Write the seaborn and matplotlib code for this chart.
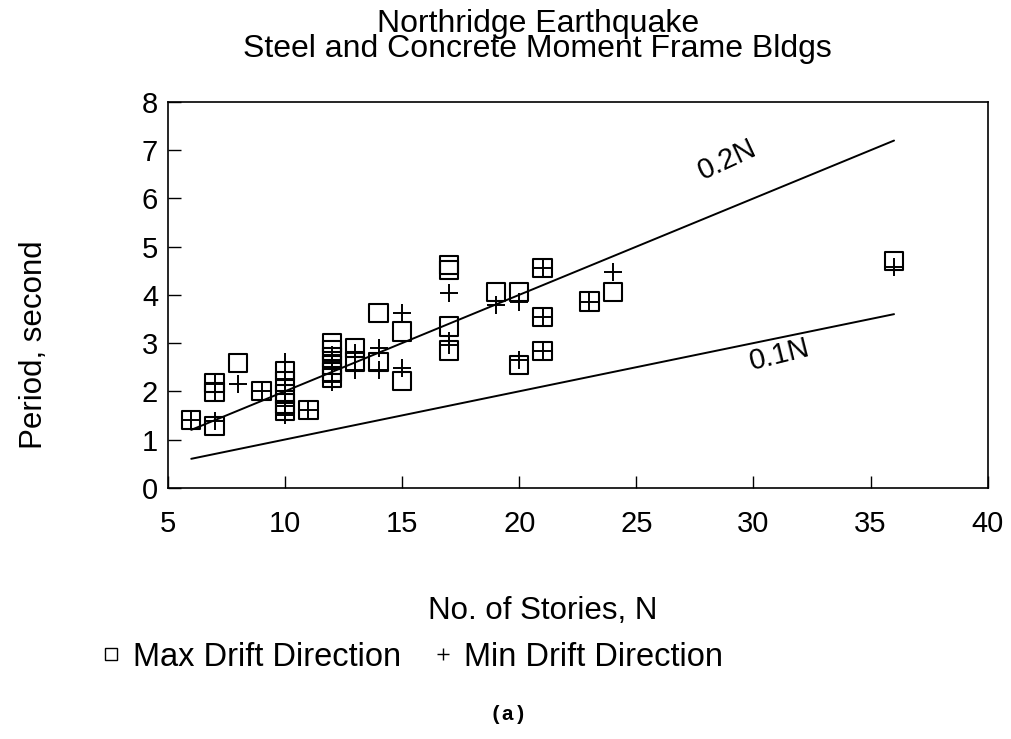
import matplotlib
matplotlib.use("Agg")
import matplotlib.pyplot as plt
from matplotlib.lines import Line2D
import numpy as np
import pandas as pd
import seaborn as sns

# Fundamental period vs. number of stories, per instrumented building
max_stories = [6, 7, 7, 7, 8, 9, 10, 10, 10, 10, 10, 11,
               12, 12, 12, 12, 12, 12, 13, 13, 14, 14, 15, 15,
               17, 17, 17, 17, 19, 20, 20, 21, 21, 21, 23, 24, 36]
max_period = [1.40, 2.17, 1.98, 1.28, 2.59, 2.00, 2.42, 2.20, 1.95, 1.75, 1.60, 1.61,
              3.00, 2.85, 2.70, 2.55, 2.40, 2.28, 2.90, 2.62, 3.62, 2.61, 3.24, 2.22,
              4.62, 4.52, 3.34, 2.85, 4.06, 4.06, 2.54, 4.56, 3.54, 2.84, 3.86, 4.06, 4.70]

min_stories = [6, 7, 7, 7, 8, 9, 10, 10, 10, 10, 10, 11,
               12, 12, 12, 12, 12, 13, 13, 14, 14, 15, 15,
               17, 17, 17, 19, 20, 20, 21, 21, 21, 23, 24, 36]
min_period = [1.40, 2.15, 1.98, 1.38, 2.16, 2.00, 2.60, 2.25, 2.00, 1.70, 1.50, 1.61,
              2.75, 2.60, 2.50, 2.35, 2.20, 2.80, 2.45, 2.90, 2.45, 3.62, 2.48,
              4.04, 3.05, 2.95, 3.78, 3.86, 2.65, 4.56, 3.54, 2.84, 3.86, 4.47, 4.58]

# Code-formula reference lines T = 0.2N and T = 0.1N
line_n = [6, 36]
coef_hi = 0.2
coef_lo = 0.1

x_ticks = [5, 10, 15, 20, 25, 30, 35, 40]
y_ticks = [0, 1, 2, 3, 4, 5, 6, 7, 8]

sns.set_theme(style="white")
plt.rcParams["font.family"] = ["Liberation Sans", "DejaVu Sans"]
plt.rcParams.update({
    "text.color": "black",
    "axes.labelcolor": "black",
    "xtick.color": "black",
    "ytick.color": "black",
})

fig = plt.figure(figsize=(10.11, 7.39), dpi=100)
ax = fig.add_axes([0.166, 0.340, 0.811, 0.522])

df_max = pd.DataFrame({"N": max_stories, "T": max_period})
df_min = pd.DataFrame({"N": min_stories, "T": min_period})
lines = pd.DataFrame({
    "N": line_n * 2,
    "T": [coef_hi * n for n in line_n] + [coef_lo * n for n in line_n],
    "rule": ["0.2N"] * 2 + ["0.1N"] * 2,
})

sns.lineplot(data=lines, x="N", y="T", units="rule", estimator=None,
             color="black", linewidth=1.4, ax=ax, legend=False)
sns.scatterplot(data=df_max, x="N", y="T", marker="s", s=175,
                facecolor="none", edgecolor="black", linewidth=1.5, ax=ax, zorder=3)
sns.scatterplot(data=df_min, x="N", y="T", marker="+", s=150,
                color="black", linewidth=1.4, ax=ax, zorder=4)

ax.text(28.9, 6.8, "0.2N", fontsize=21, rotation=25, ha="center", va="center")
ax.text(31.1, 2.75, "0.1N", fontsize=21, rotation=14, ha="center", va="center")

ax.set_xlim(5, 40)
ax.set_ylim(0, 8)
ax.set_xticks(x_ticks)
ax.set_yticks(y_ticks)
ax.tick_params(axis="both", direction="in", length=9, width=1.0, labelsize=21,
               bottom=True, left=True, top=False, right=False)
ax.tick_params(axis="x", pad=16)
ax.tick_params(axis="y", pad=7)
for sp in ax.spines.values():
    sp.set_visible(True)
    sp.set_color("black")
    sp.set_linewidth(1.2)

ax.set_xlabel("No. of Stories, N", fontsize=22.5)
ax.set_ylabel("Period, second", fontsize=22.5)
ax.xaxis.set_label_coords(0.457, -0.28)
ax.yaxis.set_label_coords(-0.145, 0.37)

fig.text(0.532, 0.988, "Northridge Earthquake\nSteel and Concrete Moment Frame Bldgs",
         ha="center", va="top", fontsize=23, linespacing=0.8)

handles = [
    Line2D([], [], marker="s", linestyle="none", markersize=9,
           markerfacecolor="none", markeredgecolor="black", markeredgewidth=1.0),
    Line2D([], [], marker="+", linestyle="none", markersize=9,
           color="black", markeredgewidth=1.0),
]
fig.legend(handles, ["Max Drift Direction", "Min Drift Direction"],
           loc="center", bbox_to_anchor=(0.408, 1 - 657 / 739), ncol=2,
           frameon=False, fontsize=23.5, handlelength=0.6, handletextpad=0.35,
           columnspacing=1.0)

fig.text(0.503, 1 - 715 / 739, "(a)", ha="center", va="center",
         fontsize=15, family="Liberation Mono", weight="bold")

fig.savefig("out.png", dpi=100, facecolor="white")
